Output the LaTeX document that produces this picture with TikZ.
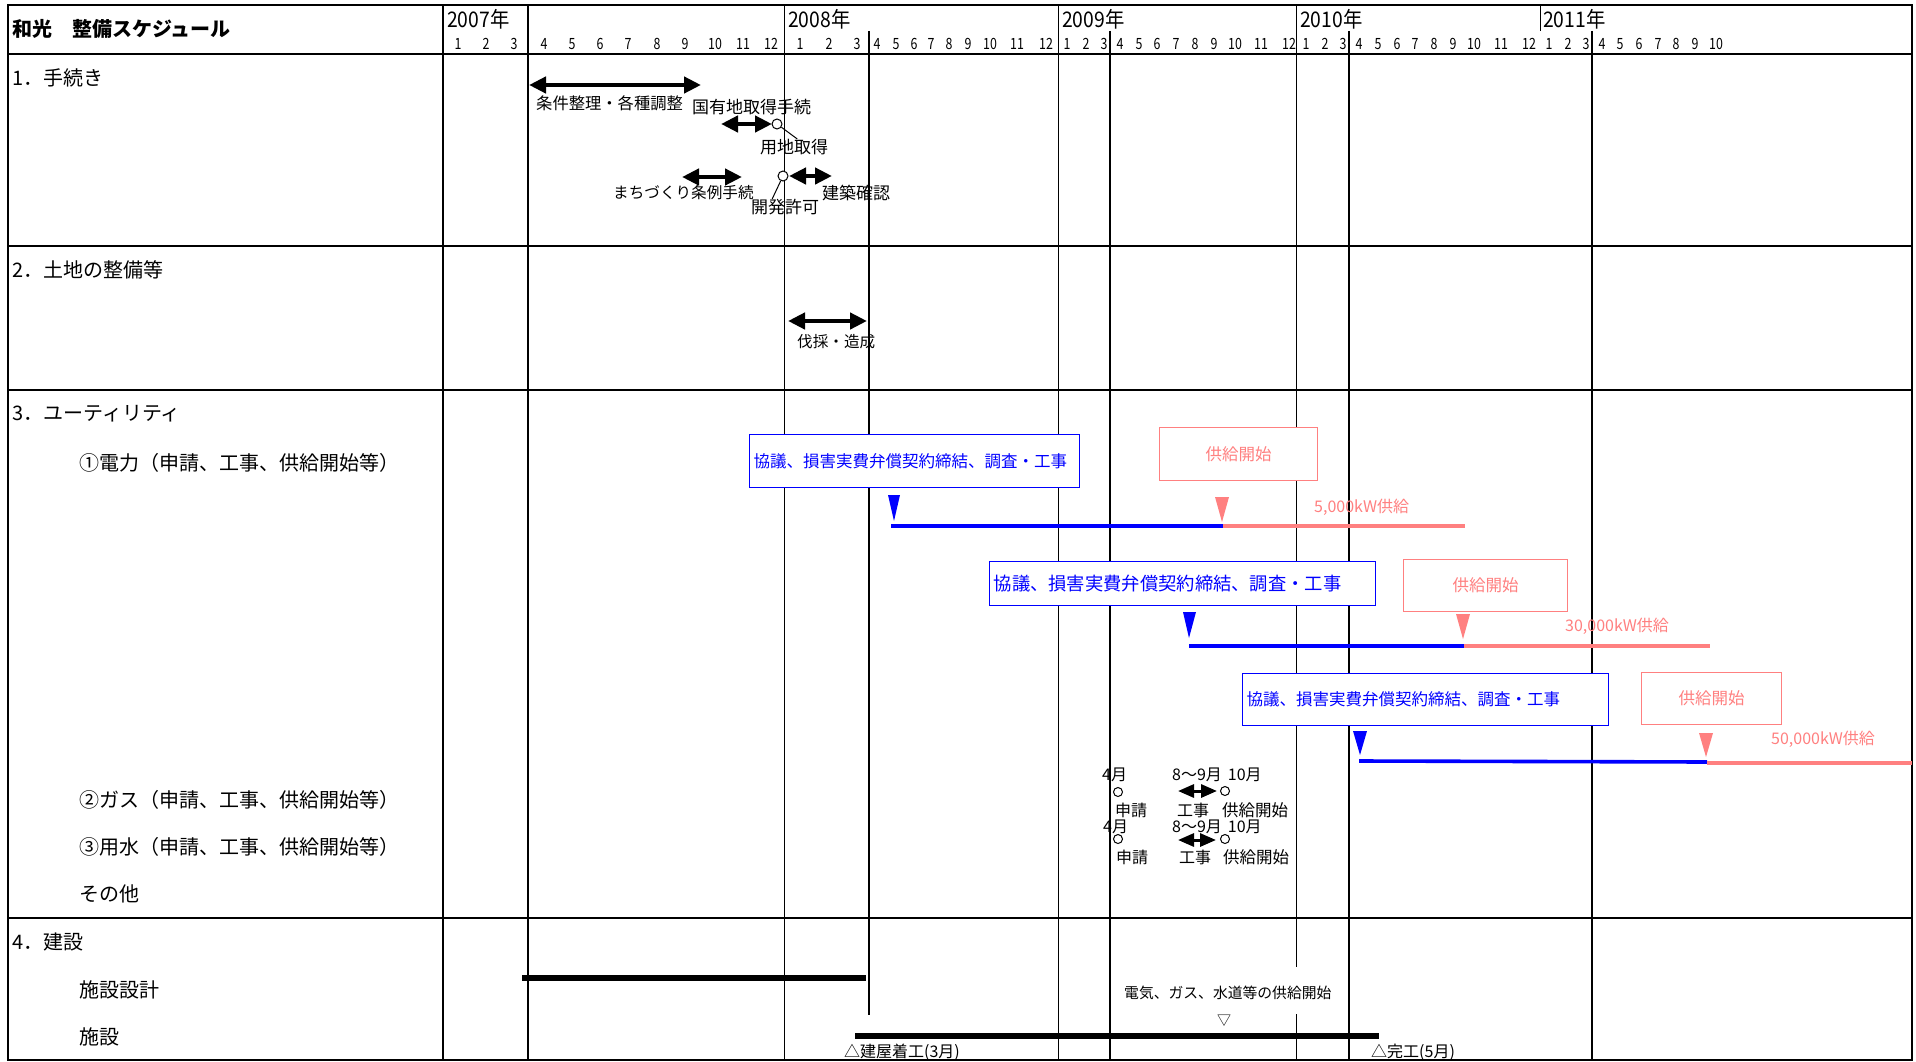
\documentclass[tikz,border=0pt]{standalone}
\usepackage{fontspec}
\setmainfont{Noto Sans CJK JP}
\newfontfamily\cond{Noto Sans CJK JP}[FakeStretch=0.8]
\newfontfamily\condy{Noto Sans CJK JP}[FakeStretch=0.9]
\usetikzlibrary{arrows.meta}
\definecolor{pk}{RGB}{255,128,128}
\definecolor{bl}{RGB}{0,0,255}
\begin{document}
\begin{tikzpicture}[x=1pt,y=-1pt,
  gthin/.style={line width=1pt},
  gthick/.style={line width=2.6pt},
  lbl/.style={anchor=west,inner sep=0pt,font=\fontsize{20}{24}\selectfont},
  note/.style={anchor=west,inner sep=0pt,font=\fontsize{17}{20}\selectfont},
  small/.style={anchor=west,inner sep=0pt,font=\fontsize{16}{19}\selectfont},
  mon/.style={inner sep=0pt,font=\cond\fontsize{15.5}{17}\selectfont},
  yr/.style={anchor=west,inner sep=0pt,font=\condy\fontsize{21.5}{24}\selectfont},
  dbl/.style={line width=4.5pt,{Triangle[length=17pt,width=16pt]}-{Triangle[length=17pt,width=16pt]}},
  dbls/.style={line width=3pt,{Triangle[length=16pt,width=13pt]}-{Triangle[length=16pt,width=13pt]}},
  bbox/.style={draw=bl,line width=1.4pt,fill=white,text=bl,inner xsep=4pt,inner ysep=0pt,align=left,anchor=north west},
  pbox/.style={draw=pk,line width=1.4pt,fill=white,text=pk,inner sep=0pt,anchor=north west,font=\fontsize{16.5}{20}\selectfont},
  ptext/.style={anchor=west,inner sep=0pt,text=pk,font=\fontsize{16}{19}\selectfont},
  ring/.style={circle,draw,line width=1pt,fill=white,inner sep=0pt,minimum size=10pt},
  rings/.style={circle,draw,line width=1pt,fill=white,inner sep=0pt,minimum size=9pt},
  bar/.style={line width=3.6pt},
  gbar/.style={line width=5.5pt},
]
\useasboundingbox (0,0) rectangle (1916,1062);
\fill[white] (0,0) rectangle (1916,1062);

% grid: vertical lines
\draw[gthick] (443,5) -- (443,1060);
\draw[gthick] (528,5) -- (528,1060);
\draw[gthin] (784,5) -- (784,1060);
\draw[gthick] (869,31) -- (869,1015);
\draw[gthin] (1058,5) -- (1058,1060);
\draw[gthick] (1110,31) -- (1110,1060);
\draw[gthin] (1296,5) -- (1296,967);
\draw[gthin] (1296,1014) -- (1296,1060);
\draw[gthick] (1349,31) -- (1349,1060);
\draw[gthin] (1540,5) -- (1540,31);
\draw[gthick] (1592,31) -- (1592,1060);
% grid: horizontal lines
\foreach \yy in {54,246,390,918} \draw[gthick] (8,\yy) -- (1912,\yy);
\draw[gthick] (8,5) rectangle (1912,1060);

% header
\node[anchor=west,inner sep=0pt,font=\fontsize{20}{24}\selectfont\bfseries] (title) at (12,29) {和光　整備スケジュール};
\node[yr] (y07) at (447,19) {2007年};
\node[yr] (y08) at (788,19) {2008年};
\node[yr] (y09) at (1062,19) {2009年};
\node[yr] (y10) at (1300,19) {2010年};
\node[yr] (y11) at (1543,19) {2011年};
\foreach \x/\m in {458/1,486/2,514/3,
  544/4,572/5,600/6,628/7,657/8,685/9,715/10,743/11,771/12,
  800/1,829/2,857/3,
  877/4,896/5,914/6,931/7,949/8,968/9,990/10,1017/11,1046/12,
  1067/1,1086/2,1104/3,
  1120/4,1139/5,1157/6,1176/7,1195/8,1214/9,1235/10,1261/11,1289/12,
  1306/1,1325/2,1343/3,
  1359/4,1378/5,1397/6,1415/7,1434/8,1453/9,1474/10,1501/11,1529/12,
  1549/1,1568/2,1586/3,
  1602/4,1620/5,1639/6,1658/7,1676/8,1695/9,1716/10}
  \node[mon] (m\x) at (\x,44) {\m};

% row labels
\node[lbl] (l1) at (12,78) {1．手続き};
\node[lbl] (l2) at (12,270) {2．土地の整備等};
\node[lbl] (l3) at (12,414) {3．ユーティリティ};
\node[lbl] (l31) at (79,463) {①電力（申請、工事、供給開始等）};
\node[lbl] (l32) at (79,800) {②ガス（申請、工事、供給開始等）};
\node[lbl] (l33) at (79,847) {③用水（申請、工事、供給開始等）};
\node[lbl] (l34) at (79,894) {その他};
\node[lbl] (l4) at (12,942) {4．建設};
\node[lbl] (l41) at (79,990) {施設設計};
\node[lbl] (l42) at (79,1037) {施設};

% section 1
\draw[dbl] (529,85) -- (701,85);
\node[note,font=\fontsize{16.3}{20}\selectfont] (n1) at (536,103) {条件整理・各種調整};
\node[note] (n2) at (692,107) {国有地取得手続};
\draw[dbl] (721,124) -- (772,124);
\node[ring] (c1) at (777,124) {};
\node[note] (n3) at (760,147) {用地取得};
\draw[gthin] (c1) -- ([xshift=3pt]n3.north);
\draw[dbl] (682,177) -- (742,177);
\node[note,font=\fontsize{15.6}{19}\selectfont] (n4) at (613,193) {まちづくり条例手続};
\node[ring] (c2) at (783,176) {};
\node[note] (n5) at (751,207) {開発許可};
\draw[gthin] (c2) -- ([xshift=-13pt]n5.north);
\draw[dbl] (789,176) -- (832,176);
\node[note] (n6) at (822,193) {建築確認};

% section 2
\draw[dbl] (788,321) -- (867,321);
\node[note,font=\fontsize{15.6}{19}\selectfont] (n7) at (797,342) {伐採・造成};

% section 3 : electricity
\node[bbox,text width=322pt,minimum height=53pt,font=\fontsize{16.5}{20}\selectfont] (b1) at (749,434) {協議、損害実費弁償契約締結、調査・工事};
\node[pbox,minimum width=158pt,minimum height=53pt] (p1) at (1159,427) {供給開始};
\fill[bl] (888,495) -- (900,495) -- (894,521) -- cycle;
\draw[bar,bl] (891,526) -- (1223,526);
\fill[pk] (1215,497) -- (1229,497) -- (1222,522) -- cycle;
\draw[bar,pk] (1223,526) -- (1465,526);
\node[ptext] (k1) at (1314,507) {5,000kW供給};

\node[bbox,text width=378pt,minimum height=44pt,font=\fontsize{18.3}{22}\selectfont] (b2) at (989,561) {協議、損害実費弁償契約締結、調査・工事};
\node[pbox,minimum width=164pt,minimum height=52pt] (p2) at (1403,559) {供給開始};
\fill[bl] (1183,612) -- (1196,612) -- (1189,638) -- cycle;
\draw[bar,bl] (1189,646) -- (1464,646);
\fill[pk] (1456,614) -- (1470,614) -- (1463,639) -- cycle;
\draw[bar,pk] (1464,646) -- (1710,646);
\node[ptext] (k2) at (1565,626) {30,000kW供給};

\node[bbox,text width=358pt,minimum height=52pt,font=\fontsize{16.5}{20}\selectfont] (b3) at (1242,673) {協議、損害実費弁償契約締結、調査・工事};
\node[pbox,minimum width=140pt,minimum height=52pt] (p3) at (1641,672) {供給開始};
\fill[bl] (1353,731) -- (1367,731) -- (1360,755) -- cycle;
\draw[bar,bl] (1359,761) -- (1707,762);
\fill[pk] (1699,733) -- (1713,733) -- (1706,757) -- cycle;
\draw[bar,pk] (1707,763) -- (1912,763);
\node[ptext] (k3) at (1771,739) {50,000kW供給};

% gas
\node[small] (g1) at (1102,775) {4月};
\node[small] (g2) at (1172,775) {8〜9月\hspace{6pt}10月};
\node[rings] (gc1) at (1118,792) {};
\draw[dbls] (1178,791) -- (1217,791);
\node[rings] (gc2) at (1225,791) {};
\node[small] (g3) at (1115,810) {申請};
\node[small] (g4) at (1177,810) {工事};
\node[small,font=\fontsize{16.5}{19}\selectfont] (g5) at (1222,810) {供給開始};

% water
\node[small] (w1) at (1103,827) {4月};
\node[small] (w2) at (1172,827) {8〜9月\hspace{6pt}10月};
\node[rings] (wc1) at (1118,839) {};
\draw[dbls] (1178,840) -- (1216,840);
\node[rings] (wc2) at (1225,839) {};
\node[small] (w3) at (1116,857) {申請};
\node[small] (w4) at (1179,857) {工事};
\node[small,font=\fontsize{16.5}{19}\selectfont] (w5) at (1223,857) {供給開始};

% section 4
\draw[gbar] (522,978) -- (866,978);
\draw[gbar] (855,1036) -- (1379,1036);
\node[small] (s1) at (844,1052) {△建屋着工(3月)};
\node[small] (s2) at (1371,1052) {△完工(5月)};
\node[anchor=west,inner sep=0pt,font=\fontsize{14.8}{18}\selectfont] (s3) at (1124,993) {電気、ガス、水道等の供給開始};
\node[inner sep=0pt,font=\fontsize{14}{16}\selectfont] (s4) at (1224,1021) {▽};
\end{tikzpicture}
\end{document}
